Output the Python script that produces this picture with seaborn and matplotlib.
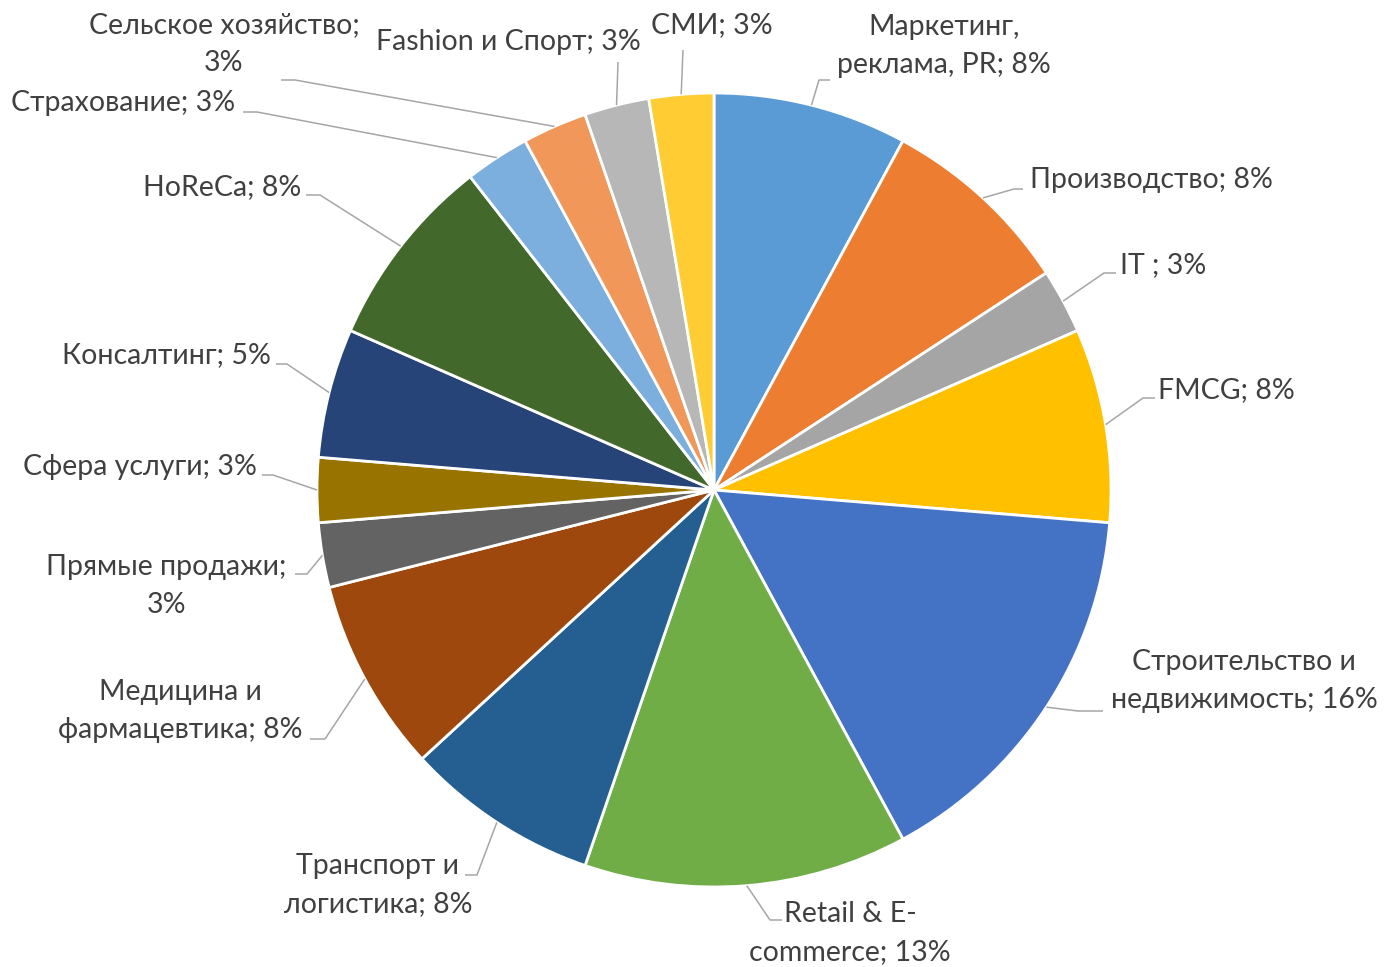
import numpy as np
import seaborn as sns
import matplotlib.pyplot as plt

# Data: number of answers per industry (share of 38)
industries = ['Маркетинг,\nреклама, PR', 'Производство', 'IT ', 'FMCG',
              'Строительство и\nнедвижимость', 'Retail & E-\ncommerce',
              'Транспорт и\nлогистика', 'Медицина и\nфармацевтика',
              'Прямые продажи;\n', 'Сфера услуги', 'Консалтинг', 'HoReCa',
              'Страхование', 'Сельское хозяйство;\n', 'Fashion и Спорт', 'СМИ']
counts = [3, 3, 1, 3, 6, 5, 3, 3, 1, 1, 2, 3, 1, 1, 1, 1]
colors = ['#5B9BD5', '#ED7D31', '#A5A5A5', '#FFC000', '#4472C4', '#70AD47',
          '#255E91', '#9E480E', '#636363', '#997300', '#264478', '#43682B',
          '#7CAFDD', '#F1975A', '#B7B7B7', '#FFCD33']

# label layout in image pixels: text centre, leader elbow, leader end
label_pos = [(944, 46), (1151, 180), (1163, 265), (1226, 390), (1244, 681),
             (850, 933), (378, 885), (180, 711), (166, 586), (140, 467),
             (166, 355), (222, 187), (123, 103), (224, 44), (508, 42), (712, 25)]
elbows = [(819, 80), (1014, 189), (1104, 273), (1143, 398), (1078, 711),
          (770, 920), (477, 875), (325, 739), (307, 574), (273, 475),
          (287, 364), (320, 195), (257, 112), (295, 80), (618, 62), (683, 50)]
ends = [(830, 80), (1023, 189), (1116, 273), (1155, 398), (1103, 711),
        (782, 920), (465, 875), (310, 739), (295, 574), (262, 475),
        (276, 364), (306, 195), (243, 112), (281, 80), (618, 62), (683, 50)]

W, H = 1385, 967
cx, cy, R = 714, 490, 397


def to_data(p):
    return (p[0] - cx) / R, (cy - p[1]) / R


sns.set_theme(style='white')
plt.rcParams['font.family'] = ['Lato', 'DejaVu Sans']

fig = plt.figure(figsize=(W / 100, H / 100), dpi=100)
ax = fig.add_axes([0, 0, 1, 1])

total = sum(counts)
wedges, _ = ax.pie(counts, colors=colors, startangle=90, counterclock=False,
                   radius=1, center=(0, 0),
                   wedgeprops=dict(edgecolor='white', linewidth=2))

for w, name, n, pos, el, en in zip(wedges, industries, counts,
                                   label_pos, elbows, ends):
    pct = round(100 * n / total)
    if name.endswith('\n'):
        txt = f'{name}{pct}%'
    else:
        txt = f'{name}; {pct}%'
    mid = np.deg2rad((w.theta1 + w.theta2) / 2)
    x0, y0 = w.r * np.cos(mid), w.r * np.sin(mid)
    ex, ey = to_data(el)
    nx, ny = to_data(en)
    ax.plot([x0, ex, nx], [y0, ey, ny], color='#A6A6A6', lw=1.1,
            solid_capstyle='butt')
    tx, ty = to_data(pos)
    ax.text(tx, ty, txt, ha='center', va='center', multialignment='center',
            fontsize=20.5, color='#404040', linespacing=1.6)

ax.set_xlim(-cx / R, (W - cx) / R)
ax.set_ylim(-(H - cy) / R, cy / R)
ax.axis('off')

fig.savefig('out.png', dpi=100, facecolor='white')
